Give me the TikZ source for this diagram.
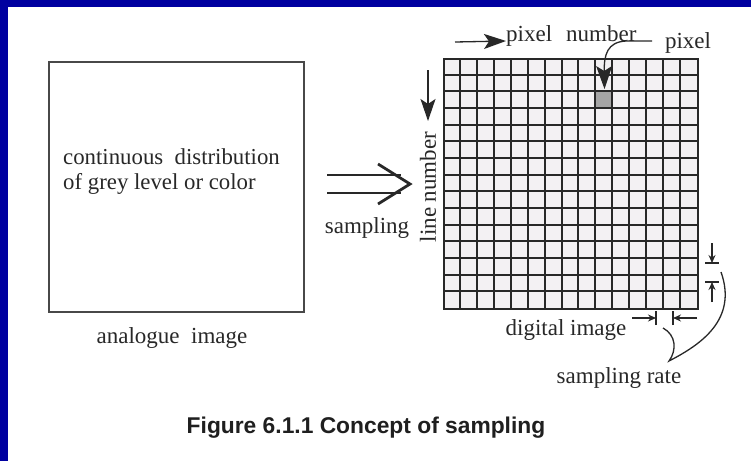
\documentclass[tikz,border=0pt]{standalone}
\usepackage{fontspec}
\setmainfont{Liberation Serif}
\newfontfamily\capfont{Liberation Sans}
\usetikzlibrary{arrows.meta}
\definecolor{frameblue}{RGB}{0,0,160}
\definecolor{cellfill}{RGB}{243,241,243}
\definecolor{inkgrey}{RGB}{40,40,40}
\definecolor{dotgrey}{RGB}{165,165,165}
\tikzset{
  ink/.style={draw=inkgrey, line width=1.3pt},
  lbl/.style={text=inkgrey, font=\fontsize{23}{25}\selectfont, inner sep=0pt},
  bigtip/.style={-{Stealth[length=22pt,width=15pt,inset=5pt]}},
  curvetip/.style={-{Stealth[length=23pt,width=16pt,inset=5pt]}},
  smalltip/.style={-{Stealth[length=8pt,width=7pt]}},
}
\begin{document}
\begin{tikzpicture}[x=1pt,y=-1pt]
\useasboundingbox (0,0) rectangle (751,461);
\fill[white] (0,0) rectangle (751,461);
\fill[frameblue] (0,0) rectangle (751,7);
\fill[frameblue] (0,0) rectangle (8,461);

% analogue image
\node[draw=inkgrey!85, line width=1.5pt, minimum width=255pt, minimum height=250pt,
      anchor=north west, inner sep=0pt] (analog) at (48,61) {};
\node[lbl, anchor=west, align=left, font=\fontsize{22.8}{25}\selectfont] (analogtext) at (63,172)
  {continuous\ \ distribution\\of grey level or color};
\node[lbl] (analoglbl) at (172,338) {analogue\ \ image};

% digital image grid
\node[draw=inkgrey, fill=cellfill, line width=1.6pt, minimum width=254pt, minimum height=250pt,
      anchor=north west, inner sep=0pt] (digital) at (443,58) {};
\fill[dotgrey] (596,91) rectangle (613,108);
\foreach \i in {1,...,14}{
  \pgfmathsetmacro\gx{round(443+\i*16.933)}
  \pgfmathsetmacro\gy{round(58+\i*16.667)}
  \draw[ink, line width=1.5pt] (\gx,58) -- (\gx,308);
  \draw[ink, line width=1.5pt] (443,\gy) -- (697,\gy);
}
\coordinate (pix) at (604.5,89);

% sampling double arrow
\coordinate (sa1) at (327,175);
\coordinate (sb1) at (401,175);
\coordinate (sa2) at (327,193);
\coordinate (sb2) at (401,193);
\coordinate (ctop) at (378,164);
\coordinate (ctip) at (410,184);
\coordinate (cbot) at (378,204);
\draw[ink, line width=2pt] (sa1) -- (sb1);
\draw[ink, line width=2pt] (sa2) -- (sb2);
\draw[ink, line width=2.8pt, line join=miter] (ctop) -- (ctip) -- (cbot);
\node[lbl] (samplbl) at (367,228) {sampling};

% line number
\node[lbl, rotate=90] (linenum) at (428,187) {line number};
\coordinate (lnstart) at (428,70);
\draw[ink, bigtip] (lnstart) -- (428,121);

% pixel number
\node[lbl, anchor=base west] (pixnum) at (506,41) {pixel\hspace{14pt}number};
\coordinate (pnstart) at (455,42);
\draw[ink, bigtip] (pnstart) -- (pixnum.base west);

% pixel label and curved arrow
\node[lbl, anchor=base] (pixlbl) at (688,48) {pixel};
\coordinate (cvstart) at (652,41);
\draw[ink, curvetip] (cvstart) -- (626,41) .. controls (607,42) and (604,55) .. (pix);

% sampling rate marks (vertical)
\coordinate (vbar1) at (712,263);
\coordinate (vbar2) at (712,282);
\draw[ink, line width=1.2pt, smalltip] (712,243) -- (vbar1);
\draw[ink, line width=1.2pt] ([xshift=-7pt]vbar1) -- ([xshift=7pt]vbar1);
\draw[ink, line width=1.2pt, smalltip] (712,302) -- (vbar2);
\draw[ink, line width=1.2pt] ([xshift=-7pt]vbar2) -- ([xshift=7pt]vbar2);

% sampling rate marks (horizontal)
\coordinate (hbar1) at (656,318);
\coordinate (hbar2) at (673,318);
\draw[ink, line width=1.2pt, smalltip] (632,318) -- (hbar1);
\draw[ink, line width=1.2pt] ([yshift=-7pt]hbar1) -- ([yshift=7pt]hbar1);
\draw[ink, line width=1.2pt, smalltip] (697,318) -- (hbar2);
\draw[ink, line width=1.2pt] ([yshift=-7pt]hbar2) -- ([yshift=7pt]hbar2);

\node[lbl] (diglbl) at (566,330) {digital image};
\node[lbl] (ratelbl) at (619,378) {sampling rate};

% bracket curves
\coordinate (brA) at (663,328);
\coordinate (brcusp) at (669,361);
\coordinate (brB) at (721,272);
\draw[ink, line width=1.3pt] (brA) .. controls (676,335) and (677,350) .. (brcusp)
  .. controls (700,345) and (738,320) .. (brB);

% caption
\node[text=black!88, font=\capfont\bfseries\fontsize{22.8}{24}\selectfont, inner sep=0pt] (caption)
  at (366,428) {Figure 6.1.1 Concept of sampling};
\end{tikzpicture}
\end{document}
